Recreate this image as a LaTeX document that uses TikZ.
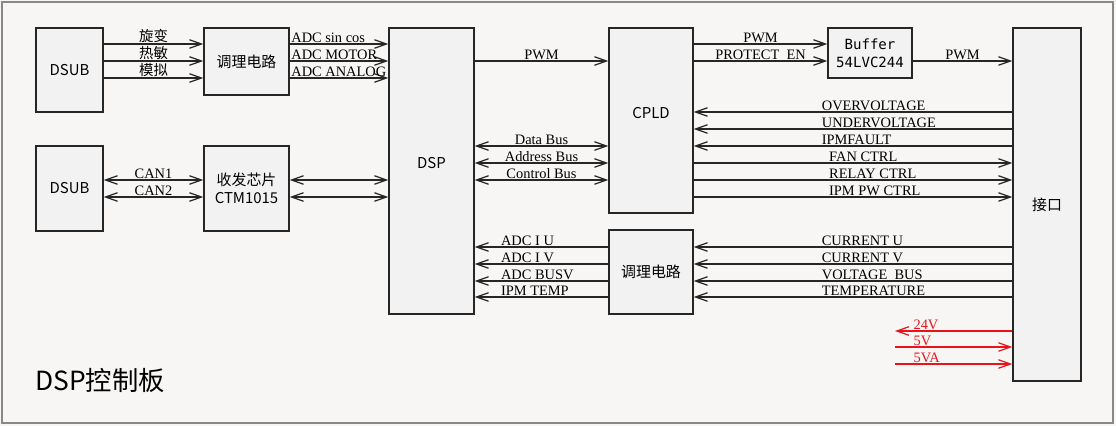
\documentclass[tikz,border=0pt]{standalone}
\usepackage{fontspec}
\setmainfont{Liberation Serif}
\newfontfamily\cjk{Noto Sans CJK SC}
\newfontfamily\monofnt{DejaVu Sans Mono}
\usetikzlibrary{arrows.meta,calc}
\definecolor{paper}{HTML}{F7F6F4}
\definecolor{boxfill}{HTML}{F2F2F2}
\definecolor{framegray}{HTML}{8A8884}
\definecolor{pwrred}{HTML}{E8141B}

\begin{document}
\begin{tikzpicture}[
  x=0.02cm, y=-0.02cm,
  box/.style={draw=black!85, fill=boxfill, line width=0.8pt, inner sep=0pt, align=center, font=\cjk\fontsize{8.5}{10}\selectfont},
  sig/.style={draw=black!85, line width=0.7pt},
  tip/.tip={Straight Barb[length=2.4mm, width=1.7mm]},
  arr/.style={sig, -tip},
  rarr/.style={sig, tip-},
  biarr/.style={sig, tip-tip},
  lbl/.style={font=\fontsize{8.2}{9}\selectfont, inner sep=0.6pt, anchor=south},
  lblw/.style={lbl, anchor=south west}
]
% board
\fill[paper] (0,0) rectangle (1116,426);
\draw[framegray, line width=0.8pt] (2,2) rectangle (1113,423);

% blocks
\node[box, minimum width=1.34cm, minimum height=1.68cm] (dsubA) at (69.5,70) {DSUB};
\node[box, minimum width=1.70cm, minimum height=1.34cm] (condA) at (246.5,61.5) {调理电路};
\node[box, minimum width=1.34cm, minimum height=1.70cm] (dsubB) at (69.5,188.5) {DSUB};
\node[box, minimum width=1.70cm, minimum height=1.70cm] (xcvr) at (246.5,188.5) {收发芯片\\CTM1015};
\node[box, minimum width=1.70cm, minimum height=5.72cm, text depth=3.2mm] (dsp) at (431.5,171) {DSP};
\node[box, minimum width=1.68cm, minimum height=3.70cm, text depth=3mm] (cpld) at (651,120.5) {CPLD};
\node[box, minimum width=1.68cm, minimum height=1.68cm] (condB) at (651,272) {调理电路};
\node[box, minimum width=1.68cm, minimum height=1.00cm, font=\monofnt\fontsize{8}{10}\selectfont] (buf) at (870,53) {Buffer\\54LVC244};
\node[box, minimum width=1.36cm, minimum height=7.06cm] (port) at (1047,204.5) {接口};
\node[anchor=west, inner sep=0pt, font=\cjk\fontsize{15}{16}\selectfont] (title) at (35,380) {DSP控制板};

% sensors -> conditioning -> DSP
\foreach \y/\t in {44/旋变, 61/热敏, 78/模拟}
  \draw[arr] (dsubA.east |- 0,\y) -- node[lbl, font=\cjk\fontsize{8.2}{9}\selectfont] {\t} (condA.west |- 0,\y);
\foreach \y/\t in {44/ADC sin cos, 61/ADC MOTOR, 78/ADC ANALOG}
  \draw[arr] (condA.east |- 0,\y) -- node[lblw, pos=0] {\t} (dsp.west |- 0,\y);

% CAN
\foreach \y/\t in {180/CAN1, 197/CAN2} {
  \draw[biarr] (dsubB.east |- 0,\y) -- node[lbl] {\t} (xcvr.west |- 0,\y);
  \draw[biarr] (xcvr.east |- 0,\y) -- (dsp.west |- 0,\y);
}

% DSP <-> CPLD
\draw[arr] (dsp.east |- 0,61) -- node[lbl] {PWM} (cpld.west |- 0,61);
\foreach \y/\t in {146/Data Bus, 163/Address Bus, 180/Control Bus}
  \draw[biarr] (dsp.east |- 0,\y) -- node[lbl] {\t} (cpld.west |- 0,\y);

% CPLD -> buffer -> port
\draw[arr] (cpld.east |- 0,44) -- node[lbl] {PWM} (buf.west |- 0,44);
\draw[arr] (cpld.east |- 0,61) -- node[lbl] {PROTECT\ \ EN} (buf.west |- 0,61);
\draw[arr] (buf.east |- 0,61) -- node[lbl] {PWM} (port.west |- 0,61);

% port <-> CPLD
\foreach \y/\t in {112/OVERVOLTAGE, 129/UNDERVOLTAGE, 146/IPMFAULT}
  \draw[rarr] (cpld.east |- 0,\y) -- node[lblw, pos=0.397] {\t} (port.west |- 0,\y);
\foreach \y/\t in {163/FAN CTRL, 180/RELAY CTRL, 197/IPM PW CTRL}
  \draw[arr] (cpld.east |- 0,\y) -- node[lblw, pos=0.42] {\t} (port.west |- 0,\y);

% analog feedback
\foreach \y/\t in {247/ADC I U, 264/ADC I V, 281/ADC BUSV, 297/IPM TEMP}
  \draw[rarr] (dsp.east |- 0,\y) -- node[lblw, pos=0.185] {\t} (condB.west |- 0,\y);
\foreach \y/\t in {247/CURRENT U, 264/CURRENT V, 281/VOLTAGE\ \ BUS, 297/TEMPERATURE}
  \draw[rarr] (condB.east |- 0,\y) -- node[lblw, pos=0.397] {\t} (port.west |- 0,\y);

% power
\coordinate (p24) at (895,331);
\coordinate (p5) at (895,347);
\coordinate (p5a) at (895,364);
\draw[rarr, draw=pwrred] (p24) -- node[lblw, pos=0.144, text=pwrred] {24V} (port.west |- p24);
\draw[arr, draw=pwrred] (p5) -- node[lblw, pos=0.144, text=pwrred] {5V} (port.west |- p5);
\draw[arr, draw=pwrred] (p5a) -- node[lblw, pos=0.144, text=pwrred] {5VA} (port.west |- p5a);
\end{tikzpicture}
\end{document}
